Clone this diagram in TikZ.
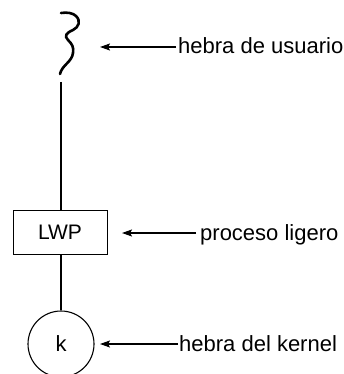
\documentclass[tikz,border=0pt]{standalone}
\usepackage{fontspec}
\setmainfont{Liberation Sans}
\usetikzlibrary{arrows.meta}
\begin{document}
\begin{tikzpicture}[x=1pt,y=-1pt,
  lbl/.style={anchor=west,font=\fontsize{22}{26}\selectfont,inner sep=0pt,text height=17pt,text depth=3pt},
  ptr/.style={-{Stealth[length=10pt,width=7pt,inset=2pt]},line width=1.5pt},
  link/.style={line width=1.5pt}]
\useasboundingbox (0,0) rectangle (344,374);
% user thread squiggle
\draw[line width=2.6pt,line cap=round] (61,13) .. controls (67,12) and (73,13) .. (76,16)
  .. controls (81,21) and (79,27) .. (73,30) .. controls (66,33) and (64,36) .. (68,40)
  .. controls (72,44) and (74,47) .. (73,53) .. controls (72,62) and (62,65) .. (60,74);
\coordinate (ut) at (61,82);
\coordinate (utip) at (100,47);
\node[draw,line width=1pt,minimum width=94pt,minimum height=44pt,inner sep=0pt,
  font=\fontsize{21}{25}\selectfont] (lwp) at (60,232) {LWP};
\node[draw,circle,line width=1.1pt,minimum size=66pt,inner sep=0pt,
  font=\fontsize{22}{26}\selectfont] (k) at (61,344) {k};
\node[lbl] (t1) at (178,47) {hebra de usuario};
\node[lbl] (t2) at (200,233) {proceso ligero};
\node[lbl] (t3) at (179,344) {hebra del kernel};
\coordinate (ltip) at (122,233);
\coordinate (ktip) at (100,344);
\draw[link] (ut) -- (lwp.north -| ut);
\draw[link] (lwp.south -| ut) -- (k.north -| ut);
\draw[ptr] ([xshift=-2pt]t1.west) -- (utip);
\draw[ptr] ([xshift=-4pt]t2.west) -- (ltip);
\draw[ptr] ([xshift=-1pt]t3.west) -- (ktip);
\end{tikzpicture}
\end{document}
